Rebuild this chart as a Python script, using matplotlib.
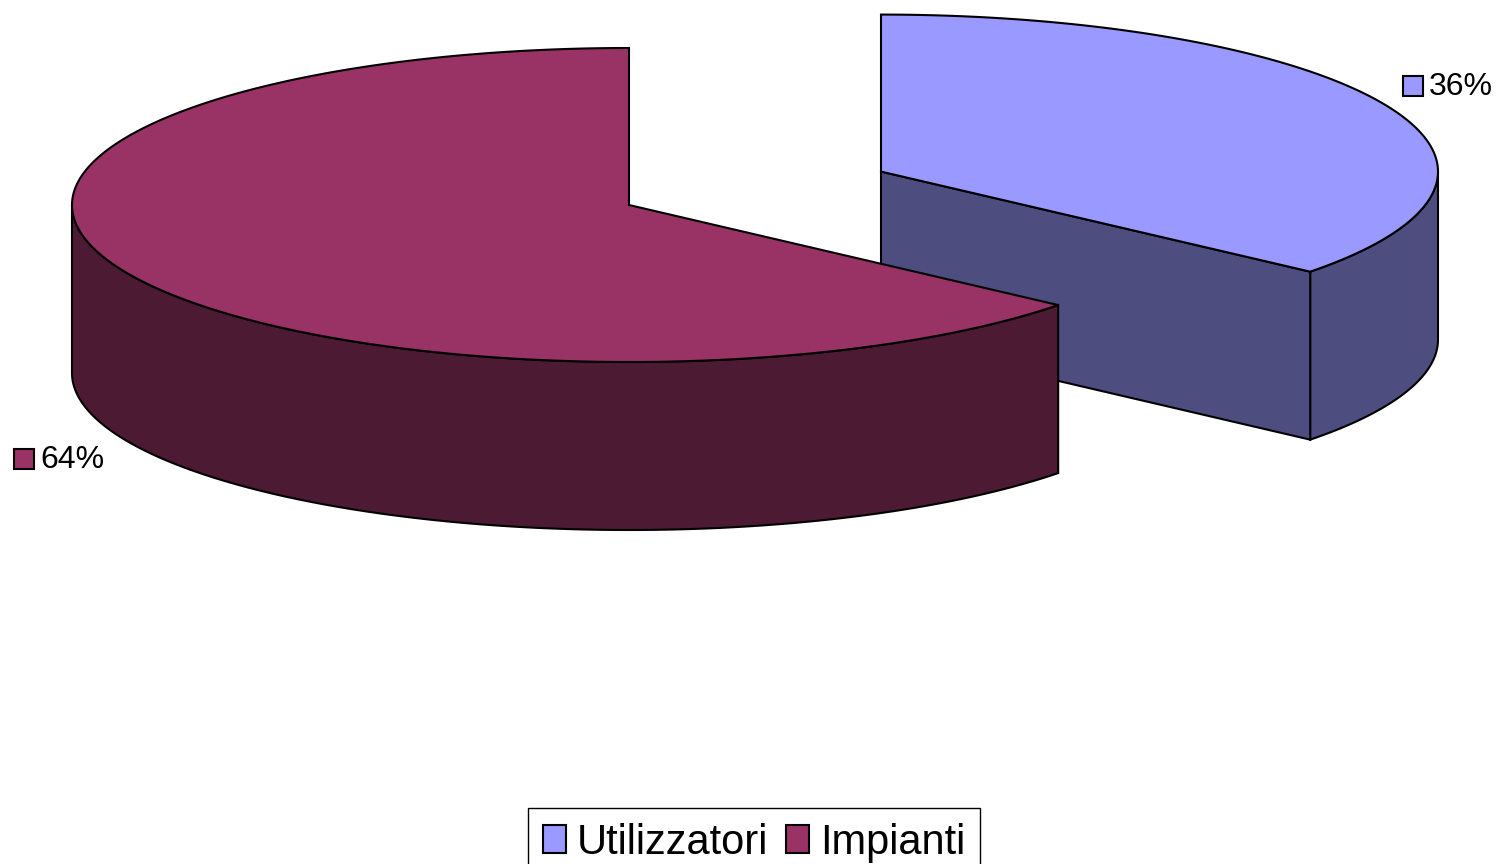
import numpy as np
import matplotlib
matplotlib.use("Agg")
import matplotlib.pyplot as plt
from matplotlib.patches import Polygon, Patch

plt.rcParams['font.family'] = ['Liberation Sans', 'DejaVu Sans']

# data
labels = ['Utilizzatori', 'Impianti']
shares = [0.36, 0.64]
explode = [0.5, 0.0]
top_colors = ['#9999FF', '#993366']
side_colors = ['#4D4D80', '#4D1A33']

# pie layout (pixel space of the figure)
CX, CY = 629, 205
RX, RY = 557, 157
DEPTH = 168
label_pos = [(1413, 86), (24, 459)]

fig = plt.figure(figsize=(14.97, 8.64), dpi=100)
ax = fig.add_axes([0, 0, 1, 1])
ax.set_xlim(0, 1497)
ax.set_ylim(864, 0)
ax.axis('off')

# slice angles, start at 12 o'clock, clockwise
cum = np.concatenate([[0], np.cumsum(shares)])
starts = 90 - cum[:-1] * 360
ends = 90 - cum[1:] * 360


def arc(cx, cy, t0, t1, z=0, n=300):
    t = np.radians(np.linspace(t0, t1, n))
    return np.column_stack([cx + RX * np.cos(t), cy - RY * np.sin(t) + z])


slices = []
for i in range(len(shares)):
    a, b = starts[i], ends[i]
    mid = np.radians((a + b) / 2)
    cx = CX + explode[i] * RX * np.cos(mid)
    cy = CY - explode[i] * RY * np.sin(mid)
    slices.append((np.sin(mid), i, a, b, cx, cy))

# back slices first
slices.sort(key=lambda s: -s[0])
lw = 1.5
z = 1
for _, i, a, b, cx, cy in slices:
    walls = []
    # outer curved wall, front half of the ellipse only
    for k in (-1, 0, 1):
        lo, hi = max(b, -180 + 360 * k), min(a, 360 * k)
        if hi > lo:
            top = arc(cx, cy, hi, lo)
            bot = arc(cx, cy, lo, hi, DEPTH)
            walls.append(np.vstack([top, bot]))
    # radial cut walls
    for ang, vis in ((a, np.cos(np.radians(a)) < -1e-9), (b, np.cos(np.radians(b)) > 1e-9)):
        if vis:
            ex = cx + RX * np.cos(np.radians(ang))
            ey = cy - RY * np.sin(np.radians(ang))
            walls.append(np.array([[cx, cy], [ex, ey], [ex, ey + DEPTH], [cx, cy + DEPTH]]))
    for w in walls:
        ax.add_patch(Polygon(w, closed=True, facecolor=side_colors[i],
                             edgecolor='black', linewidth=lw, zorder=z))
    face = np.vstack([[cx, cy], arc(cx, cy, a, b)])
    ax.add_patch(Polygon(face, closed=True, facecolor=top_colors[i],
                         edgecolor='black', linewidth=lw, joinstyle='miter', zorder=z + 1))
    z += 2

# data labels
for i, (lx, ly) in enumerate(label_pos):
    ax.plot(lx, ly, marker='s', markersize=14, markerfacecolor=top_colors[i],
            markeredgecolor='black', markeredgewidth=1.5, zorder=10)
    ax.text(lx + 16, ly + 1, f"{round(shares[i] * 100)}%", fontsize=23,
            ha='left', va='center', zorder=10)

handles = [Patch(facecolor=c, edgecolor='black', linewidth=1.5) for c in top_colors]
leg = fig.legend(handles, labels, loc='upper center', bbox_to_anchor=(754 / 1497, 1 - 808 / 864),
                 ncol=2, fontsize=30, frameon=True, fancybox=False, edgecolor='black',
                 framealpha=1, handlelength=0.55, handleheight=0.65, handletextpad=0.25,
                 columnspacing=0.45, borderpad=0.35, borderaxespad=0)
leg.get_frame().set_linewidth(1.0)

fig.savefig('out.png', dpi=100)
